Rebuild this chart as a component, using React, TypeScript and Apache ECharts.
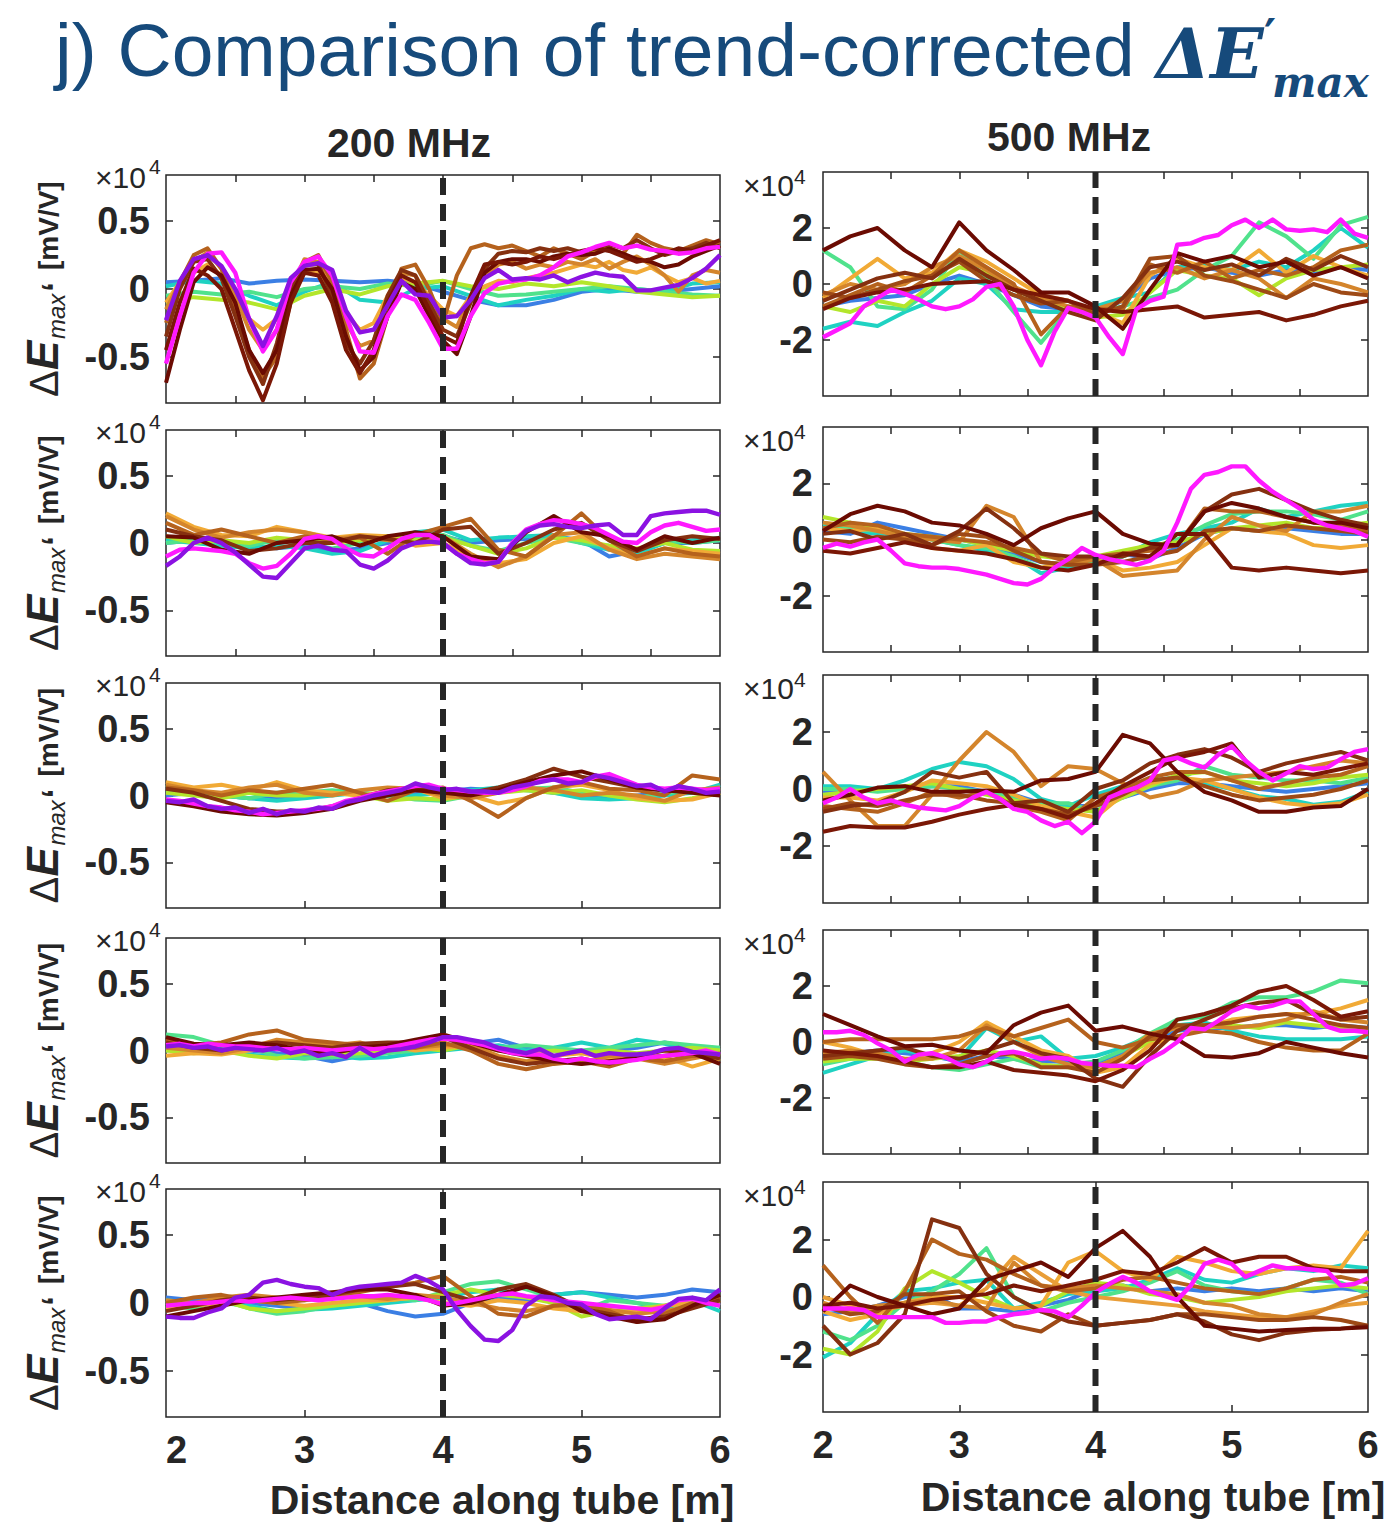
import React, { useEffect, useRef } from 'react';
import * as echarts from 'echarts';

const W = 1394;
const H = 1527;
const FONT = '"Liberation Sans", Arial, Helvetica, sans-serif';
const SERIF = '"DejaVu Serif", "Liberation Serif", serif';
const INK = '#262626';
const TITLE_BLUE = '#164a7b';

// ---- axes -------------------------------------------------------------
const X_MIN = 2;
const X_MAX = 6;
const X_LABELS = [2, 3, 4, 5, 6];
const X_TICKS_HALF = [2.5, 3, 3.5, 4, 4.5, 5, 5.5];
const X_TICKS_UNIT = [3, 4, 5];
const TUBE_MARK = 4; // dashed reference position along the tube [m]
const LEFT_Y_RANGE = [-0.84, 0.84];
const LEFT_Y_TICKS = [-0.5, 0, 0.5];
const RIGHT_Y_RANGE = [-4, 4];
const RIGHT_Y_TICKS = [-2, 0, 2];

// ---- trace colours ----------------------------------------------------
const TRACE_COLORS: Record<string, string> = {
  blue: '#3b7fe4', cyan: '#1fd2c2', green: '#50e28c', ygreen: '#b3e62b',
  orange: '#f1aa36', orange2: '#e99e38', ltbrown: '#d4852c', brown: '#b5621d',
  brown2: '#9e4a16', dkbrown: '#853010', dkred: '#6b0b02', dkred2: '#7a1706',
  magenta: '#ff19ff', purple: '#8b12e2',
};

// ---- 200 MHz, row 1 (values x1e4 mV/V) ---------------------------------
const L1_blue = [0.05,0.06,0.08,0.04,0.06,0.07,0.06,0.05,0.06,0.04,-0.02,-0.08,-0.12,-0.12,-0.08,-0.02,0.0,-0.02,-0.02,0.0,0.02];
const L1_cyan = [0.02,0.06,0.04,-0.05,-0.12,-0.02,0.05,-0.08,-0.1,0.0,0.02,-0.05,-0.12,-0.08,-0.05,0.0,-0.02,0.0,-0.02,0.04,0.05];
const L1_green = [-0.05,-0.02,-0.04,-0.02,-0.06,0.0,0.02,0.0,0.04,0.02,0.06,0.0,-0.05,-0.04,-0.02,0.0,0.02,0.0,-0.02,-0.04,-0.05];
const L1_ygreen = [-0.1,-0.06,-0.08,-0.1,-0.15,-0.05,0.0,-0.04,0.02,0.04,0.06,0.02,0.0,0.04,0.02,0.05,0.02,-0.02,-0.04,-0.06,-0.05];
const L1_orange = [-0.1,0.05,0.12,0.18,0.1,-0.05,-0.22,-0.3,-0.22,0.0,0.15,0.12,0.0,-0.18,-0.3,-0.25,-0.05,0.08,0.05,-0.05,-0.15,-0.2,-0.05,0.02,0.06,0.05,0.08,0.1,0.12,0.15,0.18,0.16,0.2,0.14,0.12,0.16,0.1,0.05,0.08,0.04,0.06];
const L1_ltbrown = [-0.15,0.05,0.2,0.27,0.15,-0.05,-0.3,-0.45,-0.3,0.0,0.22,0.2,0.02,-0.25,-0.42,-0.38,-0.1,0.12,0.1,-0.08,-0.22,-0.28,-0.05,0.1,0.18,0.2,0.15,0.18,0.16,0.2,0.18,0.22,0.15,0.2,0.24,0.18,0.1,-0.02,0.1,0.14,0.12];
const L1_brown = [-0.25,0.05,0.25,0.3,0.15,-0.15,-0.45,-0.65,-0.5,-0.1,0.2,0.25,0.05,-0.3,-0.66,-0.55,-0.2,0.15,0.18,0.0,-0.25,0.1,0.3,0.33,0.3,0.32,0.28,0.24,0.3,0.26,0.22,0.28,0.3,0.26,0.4,0.34,0.3,0.28,0.32,0.36,0.33];
const L1_dkbrown = [-0.35,0.0,0.2,0.22,0.08,-0.2,-0.5,-0.7,-0.4,0.0,0.18,0.18,-0.05,-0.4,-0.55,-0.38,-0.05,0.14,0.1,-0.1,-0.3,-0.35,-0.1,0.15,0.26,0.28,0.27,0.3,0.28,0.3,0.27,0.3,0.33,0.3,0.36,0.3,0.25,0.28,0.3,0.34,0.3];
const L1_dkred = [-0.69,-0.3,0.05,0.16,0.1,-0.1,-0.45,-0.62,-0.45,-0.05,0.14,0.15,0.0,-0.35,-0.6,-0.5,-0.2,0.05,0.0,-0.2,-0.38,-0.48,-0.2,0.12,0.2,0.22,0.22,0.2,0.24,0.26,0.25,0.26,0.3,0.26,0.22,0.2,0.16,0.18,0.24,0.28,0.32];
const L1_dkred2 = [-0.45,-0.1,0.15,0.1,0.0,-0.3,-0.6,-0.82,-0.55,-0.1,0.12,0.1,-0.1,-0.45,-0.62,-0.45,-0.1,0.1,0.05,-0.15,-0.35,-0.4,-0.05,0.18,0.2,0.18,0.2,0.24,0.22,0.25,0.28,0.3,0.28,0.24,0.2,0.22,0.26,0.3,0.28,0.32,0.36];
const L1_magenta = [-0.55,-0.2,0.12,0.26,0.27,0.12,-0.22,-0.46,-0.3,0.05,0.2,0.24,0.1,-0.2,-0.46,-0.47,-0.2,-0.04,-0.08,-0.25,-0.44,-0.44,-0.2,-0.03,0.04,0.06,0.07,0.1,0.16,0.24,0.27,0.31,0.34,0.3,0.32,0.29,0.28,0.26,0.27,0.3,0.31];
const L1_purple = [-0.23,0.06,0.22,0.25,0.17,0.0,-0.22,-0.42,-0.2,0.08,0.17,0.19,0.14,-0.16,-0.32,-0.3,-0.12,0.06,-0.04,-0.05,-0.21,-0.2,-0.08,0.08,0.14,0.07,0.08,0.07,0.1,0.05,0.09,0.12,0.1,0.09,-0.01,-0.01,0.01,0.03,0.08,0.15,0.25];

// ---- 200 MHz, row 2 ---------------------------------------------------
const L2_blue = [0.0,0.02,0.0,-0.02,-0.04,-0.02,-0.06,-0.04,0.0,0.04,0.05,0.0,0.02,0.03,0.05,0.02,-0.1,-0.06,0.0,0.0,0.02];
const L2_cyan = [0.02,0.0,-0.02,-0.04,-0.02,-0.04,-0.08,-0.06,0.02,0.08,0.1,0.02,0.04,0.05,0.06,0.0,-0.05,-0.08,0.0,0.02,0.04];
const L2_green = [0.0,0.02,0.0,-0.02,0.02,0.0,-0.04,0.0,0.05,0.04,0.06,-0.02,-0.06,0.0,0.04,0.0,-0.02,-0.05,0.02,0.0,0.02];
const L2_ygreen = [0.05,0.0,0.02,0.0,0.04,0.02,0.0,0.02,0.05,0.02,0.04,-0.02,-0.08,-0.04,0.04,0.02,-0.02,-0.04,0.0,-0.05,-0.06];
const L2_orange = [0.22,0.12,0.06,0.05,0.12,0.08,0.04,0.06,0.05,-0.02,0.0,-0.1,-0.15,-0.12,0.0,0.05,-0.04,-0.1,-0.04,-0.06,-0.08];
const L2_ltbrown = [0.2,0.1,0.04,0.08,0.1,0.08,0.03,0.05,0.02,0.0,0.05,-0.08,-0.18,-0.1,0.06,0.08,-0.05,-0.12,-0.08,-0.1,-0.12];
const L2_brown = [0.15,0.06,0.1,0.05,0.0,0.05,0.02,0.04,-0.08,0.06,0.12,0.18,-0.05,-0.1,0.05,0.22,0.02,-0.1,-0.04,-0.08,-0.1];
const L2_dkbrown = [0.1,0.05,0.02,-0.06,-0.04,0.0,0.0,0.05,0.03,0.0,0.1,0.12,-0.08,0.0,0.1,0.15,0.02,-0.06,0.02,0.05,0.03];
const L2_dkred = [0.05,0.04,-0.05,-0.08,0.0,0.02,0.05,-0.02,0.05,0.08,0.05,-0.1,-0.12,0.08,0.2,0.08,0.05,-0.05,0.05,0.0,0.04];
const L2_magenta = [-0.1,-0.05,-0.04,-0.05,-0.06,-0.08,-0.15,-0.19,-0.17,-0.08,0.03,0.05,0.03,-0.04,-0.09,-0.1,-0.04,0.03,0.06,0.06,0.0,-0.08,-0.12,-0.15,-0.14,0.0,0.1,0.14,0.17,0.16,0.14,0.11,0.06,0.01,0.0,0.08,0.13,0.15,0.12,0.09,0.1];
const L2_purple = [-0.17,-0.1,0.0,0.04,0.0,-0.07,-0.16,-0.25,-0.26,-0.15,-0.04,-0.02,-0.05,-0.06,-0.16,-0.19,-0.13,-0.04,0.0,0.01,0.0,-0.08,-0.15,-0.16,-0.14,-0.01,0.09,0.13,0.14,0.12,0.11,0.13,0.14,0.06,0.06,0.2,0.22,0.23,0.24,0.24,0.21];

// ---- 200 MHz, row 3 ---------------------------------------------------
const L3_blue = [0.0,0.02,0.0,-0.02,-0.02,0.0,0.02,0.01,0.0,0.02,0.03,0.05,0.04,0.06,0.02,0.0,-0.02,0.0,0.02,0.03,0.04];
const L3_cyan = [0.04,0.02,0.0,-0.02,-0.04,-0.02,0.0,0.02,0.0,0.0,0.02,0.04,0.06,0.04,0.02,-0.02,-0.03,-0.02,0.0,0.02,0.08];
const L3_green = [0.08,0.04,0.0,-0.02,0.02,0.02,0.04,0.02,0.0,-0.03,-0.04,0.0,0.04,0.05,0.06,0.02,0.0,-0.02,0.02,0.03,0.06];
const L3_ygreen = [0.02,0.0,-0.02,0.02,0.0,0.0,0.02,0.0,-0.04,-0.02,-0.03,0.0,0.02,0.04,0.02,0.04,0.0,-0.03,-0.05,-0.02,0.02];
const L3_orange = [0.1,0.06,0.08,0.04,0.1,0.04,0.02,0.0,0.03,0.05,-0.02,0.0,-0.06,-0.02,0.06,0.08,0.04,-0.02,-0.04,-0.03,0.02];
const L3_ltbrown = [0.08,0.04,0.02,0.06,0.08,0.02,0.0,0.04,0.06,0.05,0.0,-0.02,0.02,0.06,0.04,0.0,0.02,0.0,-0.04,0.04,0.06];
const L3_brown = [0.06,0.04,0.0,0.04,0.02,0.05,0.08,0.02,-0.04,0.04,0.06,-0.04,-0.16,-0.02,0.06,0.1,0.05,0.04,0.0,0.15,0.12];
const L3_dkbrown = [0.05,0.02,-0.04,-0.1,-0.12,-0.12,-0.08,-0.02,0.04,0.06,0.04,0.02,0.06,0.12,0.2,0.14,0.1,0.06,0.04,0.03,0.02];
const L3_dkred = [-0.05,-0.08,-0.12,-0.14,-0.15,-0.13,-0.1,-0.04,0.0,0.04,0.02,0.0,0.04,0.1,0.15,0.18,0.12,0.06,0.04,0.02,0.0];
const L3_magenta = [-0.03,-0.04,-0.06,-0.08,-0.09,-0.11,-0.12,-0.14,-0.13,-0.12,-0.11,-0.1,-0.08,-0.04,-0.02,0.01,0.03,0.05,0.07,0.08,0.05,0.04,0.03,0.02,0.02,0.04,0.07,0.11,0.12,0.12,0.1,0.14,0.16,0.12,0.08,0.06,0.05,0.06,0.05,0.04,0.05];
const L3_purple = [-0.04,-0.05,-0.03,-0.08,-0.1,-0.09,-0.13,-0.1,-0.14,-0.11,-0.12,-0.09,-0.1,-0.05,-0.03,0.0,0.02,0.04,0.09,0.06,0.04,0.05,0.03,0.03,0.02,0.06,0.08,0.1,0.12,0.09,0.1,0.15,0.13,0.1,0.07,0.08,0.03,0.07,0.05,0.02,0.03];

// ---- 200 MHz, row 4 ---------------------------------------------------
const L4_blue = [0.02,0.0,0.02,0.0,-0.02,-0.04,-0.08,-0.04,0.0,0.02,0.04,0.05,0.08,0.02,0.0,-0.02,0.0,0.02,0.06,0.02,0.0];
const L4_cyan = [0.0,0.02,0.0,-0.03,-0.05,-0.06,-0.04,-0.06,-0.05,-0.02,0.0,0.02,0.04,0.0,0.02,0.06,0.02,0.08,0.05,0.0,0.02];
const L4_green = [0.12,0.1,0.04,0.02,-0.04,-0.06,-0.05,-0.04,-0.02,0.0,0.02,0.04,0.02,0.04,0.02,0.0,0.02,0.04,0.06,0.04,0.02];
const L4_ygreen = [0.0,-0.02,0.0,-0.04,-0.06,-0.02,-0.03,-0.02,0.0,0.02,0.0,0.04,0.02,-0.02,0.0,-0.02,0.0,-0.02,0.0,0.02,0.0];
const L4_orange = [-0.04,-0.02,-0.03,0.0,0.02,0.0,0.03,0.02,0.04,0.0,0.02,0.04,0.0,-0.02,-0.04,-0.02,-0.06,-0.04,-0.05,-0.12,-0.06];
const L4_ltbrown = [0.02,0.0,-0.02,0.02,0.08,0.06,0.04,0.06,0.0,0.02,0.04,0.04,-0.04,-0.08,-0.06,-0.1,-0.04,-0.06,-0.1,-0.06,-0.02];
const L4_brown = [0.08,0.04,0.06,0.12,0.15,0.08,0.06,0.04,0.05,0.02,0.06,0.0,-0.1,-0.14,-0.1,-0.08,-0.12,-0.06,-0.08,-0.04,-0.05];
const L4_dkbrown = [0.06,0.02,0.0,0.04,0.06,0.04,0.02,0.05,0.06,0.06,0.1,0.02,-0.06,-0.1,-0.08,-0.06,-0.1,-0.04,0.0,-0.02,-0.06];
const L4_dkred = [0.1,0.05,0.04,0.06,0.04,0.0,-0.02,0.02,0.04,0.08,0.12,0.06,0.0,-0.04,-0.08,-0.1,-0.08,-0.06,-0.04,-0.02,-0.1];
const L4_magenta = [0.04,0.05,0.03,0.05,0.04,0.03,0.03,0.02,0.01,0.01,0.02,0.01,0.0,0.01,0.02,0.01,0.02,0.04,0.06,0.08,0.09,0.08,0.06,0.04,0.01,-0.02,-0.03,-0.03,-0.06,-0.08,-0.06,-0.08,-0.09,-0.08,-0.07,-0.05,-0.04,-0.03,-0.02,0.0,-0.03];
const L4_purple = [0.03,0.04,0.02,0.03,0.0,0.02,0.01,0.0,0.02,-0.02,0.0,-0.04,-0.02,-0.05,0.02,-0.04,0.0,0.01,0.03,0.06,0.1,0.1,0.08,0.06,0.02,0.0,-0.02,0.01,-0.04,-0.02,0.0,-0.04,-0.02,-0.03,-0.03,-0.02,0.01,0.02,-0.01,-0.02,-0.03];

// ---- 200 MHz, row 5 ---------------------------------------------------
const L5_blue = [0.04,0.02,0.04,0.0,-0.02,-0.04,-0.02,0.0,-0.06,-0.1,-0.08,0.0,0.04,0.02,0.06,0.08,0.06,0.04,0.06,0.1,0.08];
const L5_cyan = [0.02,0.0,0.0,-0.02,-0.06,-0.05,-0.04,-0.02,0.0,0.02,0.04,0.08,0.1,0.04,0.06,0.08,0.04,0.0,-0.04,0.02,-0.06];
const L5_green = [-0.02,-0.04,0.02,-0.04,-0.08,-0.06,-0.02,0.0,0.04,0.02,0.08,0.14,0.16,0.1,0.04,-0.06,0.02,0.0,-0.02,0.04,-0.02];
const L5_ygreen = [0.0,-0.02,0.02,-0.04,-0.06,-0.04,-0.02,0.0,0.02,0.04,0.06,0.1,0.06,0.04,0.0,-0.1,-0.06,-0.04,-0.02,0.0,0.0];
const L5_orange = [-0.04,-0.02,0.0,0.02,0.0,-0.02,0.0,0.02,0.02,0.04,0.0,-0.02,0.02,0.0,-0.04,-0.06,-0.08,-0.06,-0.02,0.0,0.02];
const L5_ltbrown = [0.02,0.0,0.04,0.06,0.04,0.02,0.04,0.05,0.03,0.06,0.04,0.0,-0.04,-0.06,-0.02,-0.02,-0.05,-0.08,-0.06,-0.02,0.02];
const L5_brown = [0.0,0.04,0.06,0.02,0.0,0.02,0.06,0.08,0.12,0.15,0.2,0.05,-0.08,-0.1,-0.02,0.0,-0.06,-0.14,-0.08,0.0,0.04];
const L5_dkbrown = [-0.06,-0.02,0.02,0.04,0.02,0.04,0.06,0.1,0.12,0.14,0.08,0.02,0.1,0.14,0.06,-0.04,-0.08,-0.12,-0.1,-0.04,0.02];
const L5_dkred = [-0.1,-0.06,-0.02,0.02,0.04,0.06,0.08,0.1,0.1,0.06,-0.02,0.0,0.06,0.12,0.05,-0.06,-0.1,-0.14,-0.12,-0.02,0.06];
const L5_magenta = [-0.02,-0.01,0.0,0.0,0.01,0.02,0.01,0.02,0.03,0.04,0.03,0.02,0.03,0.04,0.05,0.05,0.06,0.05,0.04,0.02,-0.01,0.0,0.02,0.04,0.06,0.07,0.05,0.04,0.02,0.01,0.0,-0.01,-0.02,-0.03,-0.04,-0.05,-0.03,0.02,0.03,0.0,-0.02];
const L5_purple = [-0.1,-0.11,-0.11,-0.07,-0.04,0.04,0.06,0.15,0.17,0.14,0.12,0.11,0.06,0.1,0.12,0.13,0.14,0.15,0.2,0.16,0.1,-0.05,-0.17,-0.27,-0.28,-0.2,-0.02,0.05,0.04,0.0,-0.01,-0.08,-0.12,-0.11,-0.1,-0.12,-0.04,0.03,0.04,0.02,0.1];

// ---- 500 MHz, row 1 ---------------------------------------------------
const R1_blue = [-0.8,-0.6,-0.5,-0.4,0.0,0.3,0.0,-0.4,-0.8,-0.9,-1.0,-0.6,0.2,0.5,0.6,0.4,0.3,0.5,0.4,0.6,0.5];
const R1_cyan = [-1.6,-1.35,-1.5,-1.0,-0.6,0.2,0.0,-0.9,-1.0,-1.0,-0.8,-0.5,-0.3,0.6,0.7,0.5,0.8,0.6,1.2,2.0,1.3];
const R1_green = [1.2,0.6,-0.8,-0.9,-0.2,1.2,0.2,-1.0,-2.1,-0.9,-1.0,-0.8,-0.5,-0.2,0.5,1.0,2.2,1.7,0.9,2.1,2.4];
const R1_ygreen = [-0.8,-1.0,-0.6,-0.8,0.0,0.6,0.4,-0.2,-0.6,-0.9,-1.2,-1.1,-0.3,0.5,0.3,0.2,-0.4,0.2,0.5,0.6,0.7];
const R1_orange = [-0.5,0.2,0.9,0.2,0.4,1.2,0.8,0.2,-0.4,-0.6,-1.0,-1.4,0.3,0.9,0.6,0.5,1.2,0.4,1.0,0.6,0.3];
const R1_ltbrown = [-0.4,0.0,-0.2,0.0,0.6,1.0,0.5,-0.1,-0.5,-0.8,-0.9,-0.6,0.4,0.6,0.2,0.5,0.2,-0.5,0.2,0.0,-0.3];
const R1_brown = [-0.8,-0.4,0.0,-0.3,0.3,1.2,0.6,0.0,-1.8,-0.8,-0.9,-0.9,0.7,0.4,0.8,0.2,0.5,0.3,0.6,1.2,1.4];
const R1_brown2 = [-0.3,-0.5,-0.2,0.1,0.3,0.8,0.1,-0.4,-0.7,-0.6,-1.1,-0.8,0.9,1.0,0.3,0.1,-0.2,-0.5,0.0,-0.3,-0.4];
const R1_dkbrown = [-0.6,-0.2,0.2,0.4,0.2,0.9,0.3,-0.2,-0.6,-1.0,-1.3,-0.5,0.6,0.8,0.5,0.7,0.3,0.9,0.5,1.0,0.6];
const R1_dkred = [1.2,1.7,2.0,1.2,0.6,2.2,1.2,0.5,-0.3,-0.3,-0.8,-1.6,-0.2,1.1,0.8,1.0,0.6,0.8,0.3,0.6,0.2];
const R1_dkred2 = [-0.9,-0.5,-0.3,-0.2,0.0,0.05,0.1,-0.2,-0.4,-0.6,-0.9,-1.0,-0.9,-0.8,-1.2,-1.1,-1.0,-1.3,-1.1,-0.8,-0.6];
const R1_magenta = [-1.9,-1.65,-1.4,-0.8,-0.5,-0.2,-0.35,-0.55,-0.8,-0.9,-0.8,-0.55,-0.1,0.0,-0.8,-2.0,-2.9,-1.7,-0.85,-1.0,-1.2,-1.9,-2.5,-0.9,-0.6,-0.45,1.4,1.45,1.65,1.75,2.1,2.3,2.0,2.3,1.95,1.9,1.95,1.85,2.3,1.8,1.65];

// ---- 500 MHz, row 2 ---------------------------------------------------
const R2_blue = [0.3,0.2,0.6,0.4,0.2,0.0,-0.2,-0.5,-0.8,-0.9,-0.8,-0.5,-0.7,-0.3,0.2,0.4,0.3,0.4,0.3,0.2,0.2];
const R2_cyan = [0.5,0.3,0.2,0.2,0.0,-0.2,-0.4,-0.6,-1.2,-1.0,-0.9,-0.6,-0.1,0.2,0.4,0.6,1.1,0.8,1.0,1.2,1.3];
const R2_green = [0.6,0.4,0.3,0.2,0.0,-0.2,-0.3,-0.6,-1.0,-0.9,-0.8,-0.6,-0.3,0.0,0.5,0.9,1.0,1.0,0.9,0.7,1.0];
const R2_ygreen = [0.8,0.6,0.4,0.2,0.1,0.0,-0.2,-0.4,-0.6,-0.7,-0.6,-0.4,-0.2,-0.1,0.2,0.4,0.5,0.6,0.4,0.5,0.6];
const R2_orange = [0.4,0.3,0.4,0.0,-0.3,-0.4,-0.2,-0.8,-1.0,-0.8,-0.7,-1.1,-1.0,-0.8,-0.2,0.4,0.3,0.2,-0.2,-0.3,-0.2];
const R2_ltbrown = [0.6,0.5,0.3,0.1,0.0,-0.1,1.2,0.8,-0.8,-0.9,-0.7,-1.3,-1.2,-1.1,0.0,0.8,0.5,0.3,1.0,1.0,1.2];
const R2_brown = [0.4,0.6,0.5,0.2,0.1,0.0,-0.1,-0.3,-0.5,-0.8,-0.6,-0.5,-0.4,-0.2,1.1,1.0,1.0,0.8,0.6,0.5,0.3];
const R2_brown2 = [0.0,-0.1,0.1,0.0,-0.2,0.2,0.1,-0.4,-0.8,-0.9,-0.9,-0.8,-0.6,-0.4,0.3,0.4,0.3,0.5,0.4,0.3,0.2];
const R2_dkbrown = [0.2,0.3,0.0,0.2,-0.2,0.3,1.1,0.4,-0.5,-0.6,-0.6,-0.6,-0.3,-0.2,1.0,1.6,1.8,1.4,1.0,0.7,0.5];
const R2_dkred = [0.3,0.9,1.2,1.0,0.6,0.5,0.2,-0.2,0.4,0.75,1.0,0.2,-0.15,-0.2,1.0,1.3,1.1,0.8,0.6,0.6,0.4];
const R2_dkred2 = [-0.4,-0.5,-0.3,-0.1,-0.3,-0.4,-0.5,-0.7,-1.0,-1.1,-0.9,-0.5,-0.6,0.2,0.2,-1.0,-1.1,-1.0,-1.1,-1.2,-1.1];
const R2_magenta = [-0.3,-0.15,-0.25,-0.1,0.0,-0.4,-0.85,-0.95,-1.0,-1.0,-1.05,-1.15,-1.25,-1.4,-1.55,-1.6,-1.4,-1.0,-0.7,-0.3,-0.55,-0.7,-0.8,-0.9,-0.75,-0.4,0.6,1.8,2.3,2.4,2.6,2.6,2.1,1.7,1.4,1.1,0.7,0.5,0.4,0.3,0.1];

// ---- 500 MHz, row 3 ---------------------------------------------------
const R3_blue = [-0.1,-0.1,0.0,0.0,0.1,0.1,-0.1,-0.2,-0.5,-0.6,-0.6,-0.3,0.0,0.2,0.2,0.1,0.0,-0.1,0.0,0.1,0.2];
const R3_cyan = [0.1,0.1,0.0,0.3,0.7,0.95,0.8,0.35,-0.35,-0.6,-0.2,0.1,0.3,0.4,0.2,0.0,-0.25,-0.35,-0.55,-0.45,-0.1];
const R3_green = [0.0,0.0,-0.1,0.0,0.1,0.0,-0.1,-0.3,-0.5,-0.5,-0.8,-0.2,0.1,0.3,0.8,0.5,0.4,0.3,0.3,0.2,0.4];
const R3_ygreen = [-0.2,-0.1,0.0,0.1,0.2,0.0,-0.2,-0.4,-0.6,-0.7,-0.8,-0.3,0.1,0.5,0.6,0.3,0.2,0.1,0.2,0.4,0.5];
const R3_orange = [-0.3,-0.3,-0.4,-0.1,0.3,0.2,0.1,-0.2,-0.6,-0.8,-1.0,-0.2,0.2,0.4,0.3,0.0,-0.3,-0.5,-0.6,-0.5,-0.2];
const R3_ltbrown = [0.6,-0.4,-1.3,-1.3,-0.2,1.0,2.0,1.3,0.1,0.8,0.7,0.2,-0.3,-0.1,0.3,0.4,0.5,0.6,0.8,1.0,0.9];
const R3_brown = [-0.6,-0.7,-0.8,-0.5,-0.1,-0.3,-0.1,-0.6,-0.8,-1.1,-0.3,0.0,0.4,0.6,0.6,0.3,0.0,0.2,0.4,0.5,0.8];
const R3_brown2 = [-0.7,-0.5,-0.6,-0.4,-0.2,-0.2,-0.4,-0.5,-0.7,-0.9,-0.6,-0.2,0.3,0.4,0.1,-0.2,-0.4,-0.3,-0.2,0.0,0.3];
const R3_dkbrown = [-0.8,-0.6,-0.5,-0.1,0.6,0.4,0.6,-0.5,-0.4,-0.8,0.0,0.3,0.9,1.2,1.4,1.1,0.6,0.9,1.1,1.3,1.0];
const R3_dkred = [-0.4,-0.2,0.05,0.1,-0.1,-0.1,-0.05,-0.1,0.3,0.35,0.6,1.9,1.6,0.6,-0.1,-0.4,-0.8,-0.8,-0.65,-0.6,0.0];
const R3_dkred2 = [-1.5,-1.3,-1.35,-1.35,-1.15,-0.9,-0.7,-0.55,-0.7,-1.0,-0.5,0.1,0.6,1.1,1.3,1.6,0.4,0.6,0.5,0.7,0.9];
const R3_magenta = [-0.5,-0.3,0.0,-0.3,-0.5,-0.4,-0.55,-0.65,-0.7,-0.75,-0.6,-0.3,-0.1,-0.35,-0.7,-0.8,-1.1,-1.3,-1.15,-1.55,-1.15,-0.3,-0.1,0.05,0.3,1.0,1.1,0.9,0.75,1.2,1.5,1.0,0.6,0.3,0.55,0.8,0.7,0.75,1.05,1.3,1.4];

// ---- 500 MHz, row 4 ---------------------------------------------------
const R4_blue = [-0.5,-0.4,-0.3,-0.4,-0.5,-0.7,-0.5,-0.6,-0.7,-0.7,-0.8,-0.4,0.1,0.4,0.5,0.5,0.6,0.6,0.5,0.6,0.5];
const R4_cyan = [-1.1,-0.8,-0.5,-0.3,-0.5,-0.6,0.5,0.0,0.2,-0.6,-0.5,-0.2,0.2,0.6,0.7,0.4,0.2,0.1,0.1,0.1,0.2];
const R4_green = [-0.8,-0.6,-0.5,-0.7,-0.9,-1.0,-0.8,-0.6,-0.9,-0.8,-0.7,-0.3,0.3,0.8,0.9,1.4,1.6,1.6,1.8,2.2,2.1];
const R4_ygreen = [-0.7,-0.6,-0.6,-0.7,-0.6,-0.5,-0.3,-0.5,-0.8,-0.9,-0.9,-0.5,0.0,0.6,0.5,0.6,0.5,0.7,0.6,0.5,0.4];
const R4_orange = [0.0,-0.2,-0.5,-0.7,-0.4,0.0,0.7,0.2,-0.3,-0.5,-1.1,-0.9,-0.1,0.2,0.5,0.8,0.9,1.0,1.0,1.2,1.5];
const R4_ltbrown = [-0.4,-0.3,-0.4,-0.6,-0.6,-0.3,0.6,0.0,-0.5,-0.8,-0.9,-0.5,0.3,0.5,0.6,0.5,0.6,0.8,1.1,0.8,0.7];
const R4_brown = [0.0,0.1,0.1,0.1,0.1,0.2,0.5,0.2,0.5,0.8,0.0,-0.2,0.1,0.2,0.4,0.3,0.0,-0.2,-0.3,-0.3,0.3];
const R4_brown2 = [-0.6,-0.5,-0.6,-0.8,-0.9,-0.8,-0.5,-0.4,-0.9,-0.9,-1.1,-0.6,0.2,0.6,0.6,0.7,0.9,1.0,0.8,0.6,0.5];
const R4_dkbrown = [-0.5,-0.4,-0.3,-0.2,-0.5,-0.6,-0.3,0.0,-0.4,-0.6,-1.3,-1.6,-0.5,0.4,0.8,1.2,1.4,1.5,1.0,0.8,0.9];
const R4_dkred = [1.0,0.6,0.2,-0.15,-0.1,-0.3,-0.4,0.6,1.05,1.3,0.4,0.55,0.3,0.1,-0.5,-0.55,-0.4,0.0,-0.2,-0.4,-0.55];
const R4_dkred2 = [-0.3,-0.4,-0.5,-0.7,-0.9,-0.9,-0.7,-1.0,-1.1,-1.2,-1.4,-1.0,-0.3,0.8,1.0,1.3,1.8,2.0,1.5,0.9,1.1];
const R4_magenta = [0.35,0.35,0.4,0.25,-0.05,-0.3,-0.7,-0.45,-0.4,-0.55,-0.8,-0.9,-0.7,-0.4,-0.35,-0.45,-0.6,-0.55,-0.6,-0.75,-0.8,-0.85,-0.85,-0.9,-0.6,-0.35,0.0,0.5,0.45,0.75,1.1,1.3,1.2,1.3,1.45,1.45,1.0,0.55,0.4,0.4,0.35];

// ---- 500 MHz, row 5 ---------------------------------------------------
const R5_blue = [-0.6,-0.5,-0.3,0.0,0.1,-0.4,-0.4,-0.5,-0.3,-0.1,0.3,0.4,0.2,0.3,0.2,0.3,0.2,0.3,0.2,0.3,0.2];
const R5_cyan = [-2.1,-1.6,-0.6,0.2,0.3,0.5,0.6,-0.4,-0.2,0.1,0.2,0.3,0.6,1.0,0.6,0.5,0.8,1.0,0.9,1.1,1.0];
const R5_green = [-1.2,-1.5,-1.0,-0.2,0.2,0.8,1.7,0.0,-0.5,-0.2,0.0,0.2,0.5,0.9,0.4,0.2,0.1,0.3,0.6,0.5,0.1];
const R5_ygreen = [-1.8,-2.0,-1.2,0.3,0.9,0.5,0.0,-0.4,-0.3,0.2,0.5,0.4,0.1,0.0,-0.2,-0.1,0.0,0.2,0.3,0.4,0.3];
const R5_orange = [-0.5,-0.8,-0.6,-0.2,0.0,0.0,-0.2,-0.4,-0.3,1.2,1.6,0.9,0.6,1.4,1.2,0.9,0.8,1.0,1.1,1.0,2.3];
const R5_orange2 = [0.0,-0.3,-0.5,-0.3,-0.2,-0.3,0.3,1.4,0.8,0.2,0.0,-0.1,-0.2,-0.3,-0.5,-0.6,-0.7,-0.7,-0.5,-0.3,-0.2];
const R5_ltbrown = [-0.2,-0.5,-0.3,-0.2,-0.1,-0.3,-0.4,1.2,0.4,0.3,0.4,0.3,0.2,0.1,-0.2,-0.3,-0.6,-0.7,-0.6,-0.2,0.1];
const R5_brown = [1.1,0.0,-0.9,0.2,2.0,1.5,1.3,0.8,0.4,0.2,0.3,0.6,0.7,0.5,0.3,0.2,0.1,0.3,0.6,0.7,0.5];
const R5_brown2 = [-0.3,-0.6,-0.5,0.1,0.1,0.2,-0.5,-1.0,-1.2,-0.6,-1.0,-0.9,-0.8,-0.6,-0.6,-0.7,-0.8,-0.8,-0.7,-0.8,-1.0];
const R5_dkbrown = [-1.0,-2.0,-1.6,-0.6,2.7,2.4,0.8,0.0,-0.5,-0.85,-1.0,-0.9,-0.8,-0.6,-0.85,-1.3,-1.5,-1.25,-1.15,-1.1,-1.0];
const R5_dkred = [-0.5,0.4,0.0,-0.3,-0.6,-0.4,0.6,0.9,1.2,0.7,1.7,2.3,1.4,0.0,-1.0,-1.1,-1.2,-1.15,-1.1,-1.1,-1.05];
const R5_dkred2 = [-0.3,-0.2,-0.4,-0.3,-0.1,0.0,0.1,0.4,0.2,0.4,0.6,0.9,0.8,1.2,1.7,1.2,1.4,1.4,1.0,0.9,0.9];
const R5_magenta = [-0.4,-0.4,-0.4,-0.45,-0.7,-0.7,-0.7,-0.7,-0.7,-0.9,-0.9,-0.85,-0.85,-0.7,-0.6,-0.55,-0.45,-0.5,-0.7,-0.3,0.15,0.45,0.7,0.5,0.2,0.05,-0.1,0.4,1.15,1.3,1.15,0.7,0.9,1.1,1.0,1.0,0.95,0.9,0.4,0.45,0.65];

type Trace = [string, number[]];

const LEFT_TRACES: Trace[][] = [
  [['blue', L1_blue], ['cyan', L1_cyan], ['green', L1_green], ['ygreen', L1_ygreen], ['orange', L1_orange], ['ltbrown', L1_ltbrown], ['brown', L1_brown], ['dkbrown', L1_dkbrown], ['dkred', L1_dkred], ['dkred2', L1_dkred2], ['magenta', L1_magenta], ['purple', L1_purple]],
  [['blue', L2_blue], ['cyan', L2_cyan], ['green', L2_green], ['ygreen', L2_ygreen], ['orange', L2_orange], ['ltbrown', L2_ltbrown], ['brown', L2_brown], ['dkbrown', L2_dkbrown], ['dkred', L2_dkred], ['magenta', L2_magenta], ['purple', L2_purple]],
  [['blue', L3_blue], ['cyan', L3_cyan], ['green', L3_green], ['ygreen', L3_ygreen], ['orange', L3_orange], ['ltbrown', L3_ltbrown], ['brown', L3_brown], ['dkbrown', L3_dkbrown], ['dkred', L3_dkred], ['magenta', L3_magenta], ['purple', L3_purple]],
  [['blue', L4_blue], ['cyan', L4_cyan], ['green', L4_green], ['ygreen', L4_ygreen], ['orange', L4_orange], ['ltbrown', L4_ltbrown], ['brown', L4_brown], ['dkbrown', L4_dkbrown], ['dkred', L4_dkred], ['magenta', L4_magenta], ['purple', L4_purple]],
  [['blue', L5_blue], ['cyan', L5_cyan], ['green', L5_green], ['ygreen', L5_ygreen], ['orange', L5_orange], ['ltbrown', L5_ltbrown], ['brown', L5_brown], ['dkbrown', L5_dkbrown], ['dkred', L5_dkred], ['magenta', L5_magenta], ['purple', L5_purple]],
];

const RIGHT_TRACES: Trace[][] = [
  [['blue', R1_blue], ['cyan', R1_cyan], ['green', R1_green], ['ygreen', R1_ygreen], ['orange', R1_orange], ['ltbrown', R1_ltbrown], ['brown', R1_brown], ['brown2', R1_brown2], ['dkbrown', R1_dkbrown], ['dkred2', R1_dkred2], ['dkred', R1_dkred], ['magenta', R1_magenta]],
  [['blue', R2_blue], ['cyan', R2_cyan], ['green', R2_green], ['ygreen', R2_ygreen], ['orange', R2_orange], ['ltbrown', R2_ltbrown], ['brown', R2_brown], ['brown2', R2_brown2], ['dkbrown', R2_dkbrown], ['dkred2', R2_dkred2], ['dkred', R2_dkred], ['magenta', R2_magenta]],
  [['blue', R3_blue], ['cyan', R3_cyan], ['green', R3_green], ['ygreen', R3_ygreen], ['orange', R3_orange], ['ltbrown', R3_ltbrown], ['brown', R3_brown], ['brown2', R3_brown2], ['dkbrown', R3_dkbrown], ['dkred2', R3_dkred2], ['dkred', R3_dkred], ['magenta', R3_magenta]],
  [['blue', R4_blue], ['cyan', R4_cyan], ['green', R4_green], ['ygreen', R4_ygreen], ['orange', R4_orange], ['ltbrown', R4_ltbrown], ['brown', R4_brown], ['brown2', R4_brown2], ['dkbrown', R4_dkbrown], ['dkred2', R4_dkred2], ['dkred', R4_dkred], ['magenta', R4_magenta]],
  [['blue', R5_blue], ['cyan', R5_cyan], ['green', R5_green], ['ygreen', R5_ygreen], ['orange', R5_orange], ['orange2', R5_orange2], ['ltbrown', R5_ltbrown], ['brown', R5_brown], ['brown2', R5_brown2], ['dkbrown', R5_dkbrown], ['dkred2', R5_dkred2], ['dkred', R5_dkred], ['magenta', R5_magenta]],
];

// ---- page layout (pixels) ---------------------------------------------
const COLUMNS = [
  {
    x0: 166, x1: 720,
    rows: [[175, 403], [430, 656], [683, 908], [938, 1163], [1189, 1417]],
    xTicks: [X_TICKS_HALF, X_TICKS_HALF, X_TICKS_UNIT, X_TICKS_UNIT, X_TICKS_UNIT],
    yRange: LEFT_Y_RANGE, yTicks: LEFT_Y_TICKS, traces: LEFT_TRACES,
    labelMargin: 16, alignMin: 'left', expo: { dx: -71, dy: 2, sx: -17, sy: -9 },
    title: '200 MHz', titlePos: [409, 143], namePos: [502, 1500], yName: true,
  },
  {
    x0: 823, x1: 1368,
    rows: [[172, 396], [427, 652], [675, 903], [930, 1154], [1182, 1412]],
    xTicks: [X_TICKS_HALF, X_TICKS_HALF, X_TICKS_HALF, X_TICKS_HALF, X_TICKS_UNIT],
    yRange: RIGHT_Y_RANGE, yTicks: RIGHT_Y_TICKS, traces: RIGHT_TRACES,
    labelMargin: 10, alignMin: 'center', expo: { dx: -80, dy: 13, sx: -29, sy: 4 },
    title: '500 MHz', titlePos: [1069, 137], namePos: [1153, 1497], yName: false,
  },
];

function text(x: number, y: number, s: string, size: number, o: any = {}) {
  const align = o.align || 'left';
  return {
    type: 'text', x, y, silent: true, z: 100,
    style: {
      text: s, fontSize: size, fontFamily: o.family || FONT,
      fontWeight: o.weight || 'normal', fontStyle: o.style || 'normal',
      fill: o.color || INK, align, textAlign: align,
      verticalAlign: 'middle', textVerticalAlign: 'middle',
    },
  };
}

// rotated "ΔE_max ‘ [mV/V]" label; local x runs upward after rotation
function yName(cy: number) {
  const mid = (fs: number, base = 0) => base - 0.35 * fs;
  return {
    type: 'group', x: 58, y: cy, rotation: Math.PI / 2, silent: true, z: 100,
    children: [
      text(-108, mid(40), 'Δ', 40),
      text(-81, mid(44), 'E', 44, { weight: 'bold', style: 'italic' }),
      text(-50, mid(24, 7), 'max', 24, { style: 'italic' }),
      text(-3, mid(36, 10), '‘', 36, { weight: 'bold' }),
      text(19, mid(28), '[mV/V]', 28, { weight: 'bold' }),
    ],
  };
}

function toPoints(values: number[]) {
  const step = (X_MAX - X_MIN) / (values.length - 1);
  return values.map((v, k) => [X_MIN + k * step, v]);
}

function buildOption() {
  const grid: any[] = [];
  const xAxis: any[] = [];
  const yAxis: any[] = [];
  const series: any[] = [];
  const graphic: any[] = [];

  graphic.push(text(55, 50, 'j) Comparison of trend-corrected', 75, { color: TITLE_BLUE }));
  graphic.push(text(1156, 53, 'ΔE', 70, { family: SERIF, weight: 'bold', style: 'italic', color: TITLE_BLUE }));
  graphic.push(text(1264, 36, '′', 46, { family: SERIF, weight: 'bold', color: TITLE_BLUE }));
  graphic.push(text(1272, 82, 'max', 42, { family: SERIF, weight: 'bold', style: 'italic', color: TITLE_BLUE }));

  let gi = 0;
  COLUMNS.forEach((col) => {
    graphic.push(text(col.titlePos[0], col.titlePos[1], col.title, 41, { weight: 'bold', align: 'center' }));
    graphic.push(text(col.namePos[0], col.namePos[1], 'Distance along tube [m]', 41, { weight: 'bold', align: 'center' }));

    col.rows.forEach(([y0, y1], ri) => {
      const isBottom = ri === col.rows.length - 1;
      grid.push({
        left: col.x0, top: y0, width: col.x1 - col.x0, height: y1 - y0,
        show: true, borderColor: INK, borderWidth: 1.5, backgroundColor: '#ffffff',
      });
      const tickX = { show: true, inside: true, length: 7, customValues: col.xTicks[ri], lineStyle: { color: INK, width: 1.5 } };
      const tickY = { show: true, inside: true, length: 7, customValues: col.yTicks, lineStyle: { color: INK, width: 1.5 } };
      const hiddenLine = { show: false, onZero: false };
      xAxis.push({
        gridIndex: gi, type: 'value', min: X_MIN, max: X_MAX, position: 'bottom',
        axisLine: hiddenLine, axisTick: tickX, splitLine: { show: false },
        axisLabel: {
          show: isBottom, customValues: X_LABELS, fontSize: 38, fontWeight: 'bold',
          fontFamily: FONT, color: INK, margin: 14, alignMinLabel: col.alignMin,
        },
      });
      xAxis.push({
        gridIndex: gi, type: 'value', min: X_MIN, max: X_MAX, position: 'top',
        axisLine: hiddenLine, axisTick: tickX, splitLine: { show: false }, axisLabel: { show: false },
      });
      yAxis.push({
        gridIndex: gi, type: 'value', min: col.yRange[0], max: col.yRange[1], position: 'left',
        axisLine: hiddenLine, axisTick: tickY, splitLine: { show: false },
        axisLabel: {
          customValues: col.yTicks, fontSize: 38, fontWeight: 'bold', fontFamily: FONT,
          color: INK, margin: col.labelMargin,
        },
      });
      yAxis.push({
        gridIndex: gi, type: 'value', min: col.yRange[0], max: col.yRange[1], position: 'right',
        axisLine: hiddenLine, axisTick: tickY, splitLine: { show: false }, axisLabel: { show: false },
      });

      col.traces[ri].forEach(([key, values], k) => {
        series.push({
          type: 'line', xAxisIndex: 2 * gi, yAxisIndex: 2 * gi,
          data: toPoints(values), symbol: 'none', silent: true, z: 2 + k * 0.01,
          lineStyle: { color: TRACE_COLORS[key], width: key === 'magenta' || key === 'purple' ? 4.4 : 4, join: 'round' },
        });
      });
      series.push({
        type: 'line', xAxisIndex: 2 * gi, yAxisIndex: 2 * gi, silent: true, z: 5,
        data: [[TUBE_MARK, col.yRange[0]], [TUBE_MARK, col.yRange[1]]], symbol: 'none',
        lineStyle: { color: INK, width: 6, type: [17, 9], cap: 'butt' },
      });

      const e = col.expo;
      graphic.push(text(col.x0 + e.dx, y0 + e.dy, '×10', 30));
      graphic.push(text(col.x0 + e.sx, y0 + e.sy, '4', 21));
      if (col.yName) graphic.push(yName((y0 + y1) / 2));
      gi += 1;
    });
  });

  return {
    animation: false,
    backgroundColor: '#ffffff',
    grid, xAxis, yAxis, series, graphic,
  };
}

export default function App() {
  const ref = useRef<HTMLDivElement>(null);
  useEffect(() => {
    if (!ref.current) return undefined;
    const chart = echarts.init(ref.current, undefined, { renderer: 'svg' });
    chart.setOption(buildOption());
    return () => chart.dispose();
  }, []);
  return (
    <div
      ref={ref}
      style={{ position: 'absolute', left: 0, top: 0, width: W, height: H, background: '#ffffff' }}
    />
  );
}
